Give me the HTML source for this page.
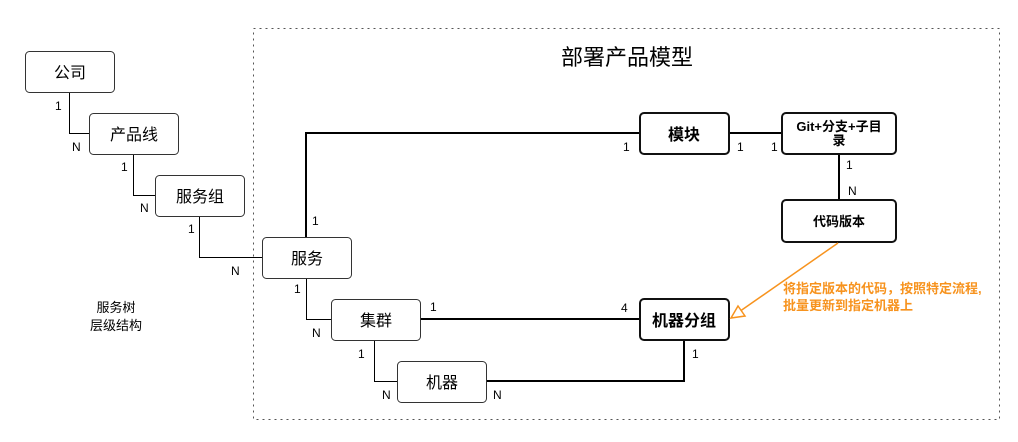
<!DOCTYPE html>
<html><head><meta charset="utf-8"><style>
html,body{margin:0;padding:0;background:#fff;}
text{font-family:"Liberation Sans","Noto Sans CJK SC",sans-serif;fill:#000;}
</style></head><body>
<svg width="1018" height="437" viewBox="0 0 1018 437" xmlns="http://www.w3.org/2000/svg">
<rect x="253.5" y="28.5" width="746" height="391" fill="none" stroke="#555" stroke-width="1" stroke-dasharray="2,4"/>
<text x="627" y="65" font-size="22" text-anchor="middle">部署产品模型</text>
<g fill="none" stroke="#000" stroke-width="1">
<path d="M69.5 92 V133.5 H89"/>
<path d="M133.5 154 V195.5 H155"/>
<path d="M199.5 216 V257.5 H262"/>
<path d="M306.5 278 V319.5 H331"/>
<path d="M374.5 340 V381.5 H397"/>
</g>
<g fill="none" stroke="#000" stroke-width="2">
<path d="M306 237 V133 H640"/>
<path d="M729 133 H782"/>
<path d="M839 154 V200"/>
<path d="M420 319 H640"/>
<path d="M486 381 H684 V340"/>
</g>
<g fill="#fff" stroke="#333" stroke-width="1">
<rect x="25.5" y="51.5" width="89" height="41" rx="4"/>
<rect x="89.5" y="113.5" width="89" height="41" rx="4"/>
<rect x="155.5" y="175.5" width="89" height="41" rx="4"/>
<rect x="262.5" y="237.5" width="89" height="41" rx="4"/>
<rect x="331.5" y="299.5" width="89" height="41" rx="4"/>
<rect x="397.5" y="361.5" width="89" height="41" rx="4"/>
</g>
<g fill="#fff" stroke="#111" stroke-width="2">
<rect x="640" y="113" width="89" height="41" rx="4"/>
<rect x="782" y="113" width="114" height="41" rx="4"/>
<rect x="782" y="200" width="114" height="42" rx="4"/>
<rect x="640" y="299" width="89" height="41" rx="4"/>
</g>
<g font-size="16" text-anchor="middle">
<text x="70" y="78">公司</text>
<text x="134" y="140">产品线</text>
<text x="200" y="202">服务组</text>
<text x="307" y="264">服务</text>
<text x="376" y="326">集群</text>
<text x="442" y="388">机器</text>
<text x="684" y="140" font-weight="bold">模块</text>
<text x="684" y="326" font-weight="bold">机器分组</text>
</g>
<text x="839" y="131" font-size="13" text-anchor="middle" font-weight="bold">Git+分支+子目</text>
<text x="839" y="145" font-size="13" text-anchor="middle" font-weight="bold">录</text>
<text x="839" y="226" font-size="13" text-anchor="middle" font-weight="bold">代码版本</text>
<g font-size="12">
<text x="55" y="110">1</text><text x="72" y="151">N</text>
<text x="121" y="171">1</text><text x="140" y="212">N</text>
<text x="188" y="233">1</text><text x="231" y="275">N</text>
<text x="312" y="225">1</text>
<text x="294" y="293">1</text><text x="312" y="337">N</text>
<text x="430" y="311">1</text>
<text x="358" y="358">1</text><text x="382" y="399">N</text>
<text x="493" y="399">N</text>
<text x="623" y="151">1</text>
<text x="737" y="151">1</text><text x="771" y="151">1</text>
<text x="846" y="169">1</text><text x="848" y="195">N</text>
<text x="621" y="312">4</text>
<text x="692" y="358">1</text>
</g>
<g font-size="13" text-anchor="middle">
<text x="116" y="312">服务树</text>
<text x="116" y="330">层级结构</text>
</g>
<line x1="838" y1="243" x2="736" y2="314" stroke="#f7931e" stroke-width="1.5"/>
<polygon points="731,318 738,306 745,316" fill="#fff" stroke="#f7931e" stroke-width="1.5"/>
<g font-size="13" font-weight="bold" style="fill:#f7931e">
<text x="783" y="293" style="fill:#f7931e">将指定版本的代码，按照特定流程,</text>
<text x="783" y="310" style="fill:#f7931e">批量更新到指定机器上</text>
</g>
</svg>
</body></html>
